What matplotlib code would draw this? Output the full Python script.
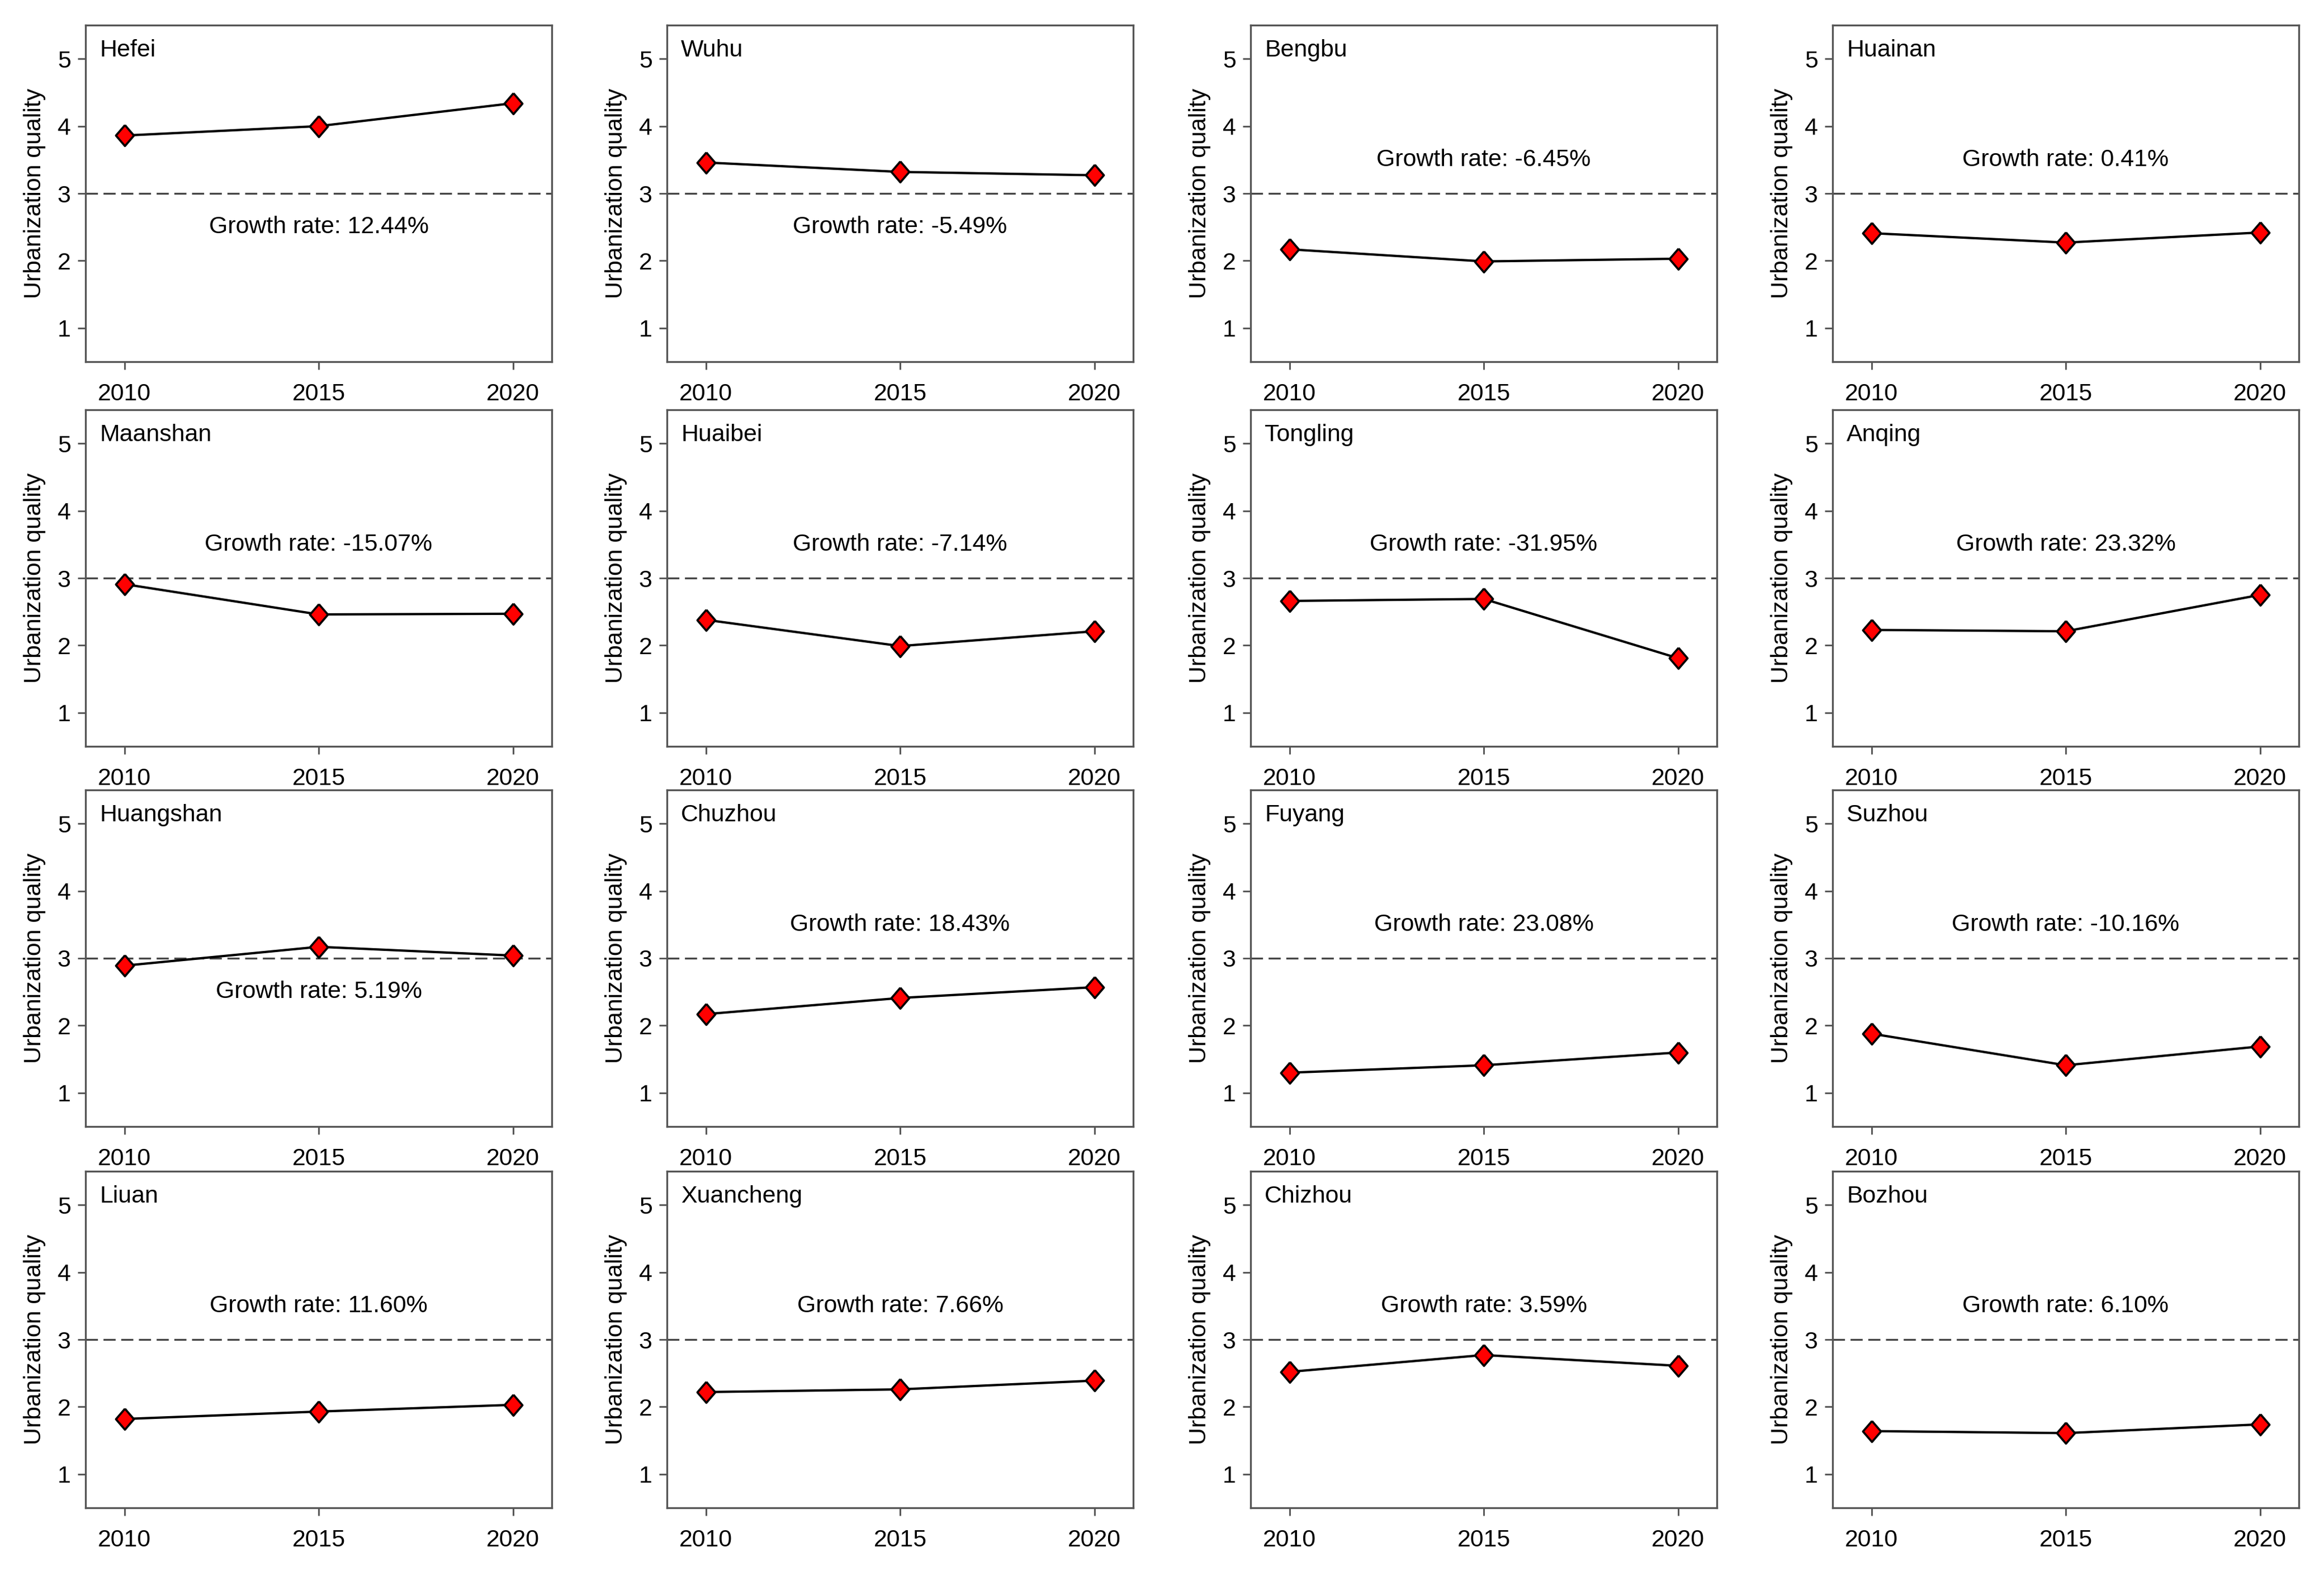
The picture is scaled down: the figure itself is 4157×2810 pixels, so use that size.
import matplotlib
matplotlib.use("Agg")
import matplotlib.pyplot as plt

plt.rcParams['font.family'] = ['Liberation Sans', 'DejaVu Sans']

years = [2010, 2015, 2020]
cities = ["Hefei", "Wuhu", "Bengbu", "Huainan",
          "Maanshan", "Huaibei", "Tongling", "Anqing",
          "Huangshan", "Chuzhou", "Fuyang", "Suzhou",
          "Liuan", "Xuancheng", "Chizhou", "Bozhou"]
quality = [
    [3.86, 4.00, 4.34],
    [3.46, 3.32, 3.27],
    [2.17, 1.99, 2.03],
    [2.41, 2.27, 2.42],
    [2.91, 2.46, 2.47],
    [2.38, 1.99, 2.21],
    [2.66, 2.69, 1.81],
    [2.23, 2.21, 2.75],
    [2.89, 3.17, 3.04],
    [2.17, 2.41, 2.57],
    [1.30, 1.41, 1.60],
    [1.88, 1.41, 1.69],
    [1.82, 1.93, 2.03],
    [2.22, 2.26, 2.39],
    [2.52, 2.77, 2.61],
    [1.64, 1.61, 1.74],
]
growth_labels = ["12.44%", "-5.49%", "-6.45%", "0.41%",
                 "-15.07%", "-7.14%", "-31.95%", "23.32%",
                 "5.19%", "18.43%", "23.08%", "-10.16%",
                 "11.60%", "7.66%", "3.59%", "6.10%"]
growth_below = [True, True, False, False,
                False, False, False, False,
                True, False, False, False,
                False, False, False, False]
threshold = 3
yticks = [1, 2, 3, 4, 5]

W, H = 4157, 2810
fig = plt.figure(figsize=(W / 300, H / 300), dpi=300)

lefts_px = [153, 1193, 2237, 3278]
tops_px = [45, 733, 1413, 2095]
aw_px, ah_px = 834, 602

diamond = [(0, 1), (0.86, 0), (0, -1), (-0.86, 0), (0, 1)]
fs = 10.3
spine_c = '#555555'

for i, city in enumerate(cities):
    r, c = divmod(i, 4)
    ax = fig.add_axes([lefts_px[c] / W, 1 - (tops_px[r] + ah_px) / H,
                       aw_px / W, ah_px / H])
    ax.axhline(threshold, color='#444444', lw=0.8, dashes=(6.5, 3.0), zorder=1)
    ax.plot(years, quality[i], color='black', lw=1.0, marker=diamond,
            markersize=9.0, markerfacecolor='#FF0000', markeredgecolor='black',
            markeredgewidth=0.9, zorder=3, clip_on=False)
    ax.set_xlim(2009, 2021)
    ax.set_ylim(0.5, 5.5)
    ax.set_xticks(years)
    ax.set_yticks(yticks)
    ax.tick_params(axis='both', direction='out', length=3.3, width=0.7,
                   color=spine_c, labelsize=fs)
    ax.tick_params(axis='x', pad=5.8)
    ax.tick_params(axis='y', pad=3.0)
    for s in ax.spines.values():
        s.set_color(spine_c)
        s.set_linewidth(0.8)
    ax.set_ylabel("Urbanization quality", fontsize=fs, labelpad=5)
    ax.text(0.03, 0.925, city, transform=ax.transAxes, ha='left', va='center',
            fontsize=fs)
    gy = 2.5 if growth_below[i] else 3.5
    ax.text(2015, gy, "Growth rate: " + growth_labels[i], ha='center',
            va='center', fontsize=fs)

fig.savefig("out.png", dpi=300, facecolor='white')
